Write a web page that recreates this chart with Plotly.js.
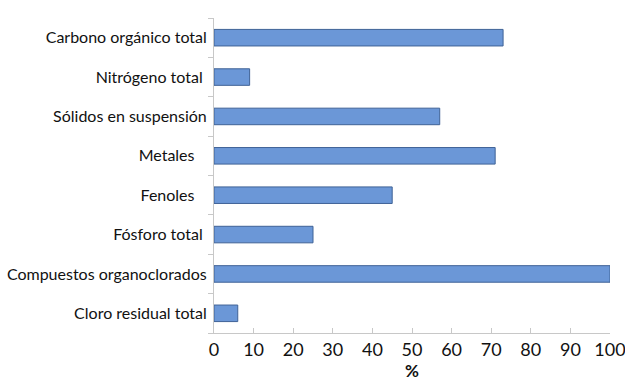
<!DOCTYPE html>
<html>
<head>
<meta charset="utf-8">
<script src="https://cdn.plot.ly/plotly-3.0.1.min.js"></script>
<style>html,body{margin:0;padding:0;background:#fff;}#chart{width:625px;height:381px;}</style>
</head>
<body>
<div id="chart"></div>
<script>
const categories = [
  "Carbono orgánico total",
  "Nitrógeno total",
  "Sólidos en suspensión",
  "Metales",
  "Fenoles",
  "Fósforo total",
  "Compuestos organoclorados",
  "Cloro residual total"
];
const values = [73, 9, 57, 71, 45, 25, 100, 6];
const tickVals = [0, 10, 20, 30, 40, 50, 60, 70, 80, 90, 100];

// trailing spacing as in the original labels
const labelPad = { "Nitrógeno total": 1, "Metales": 3, "Fenoles": 3, "Fósforo total": 1, "Cloro residual total": 0 };
const tickText = categories.map(c => c + '\u00a0'.repeat(labelPad[c] || 0));

const trace = {
  type: 'bar',
  orientation: 'h',
  y: categories,
  x: values,
  width: 0.42,
  marker: { color: '#6b97d7', line: { color: '#3f6296', width: 1 } },
  hoverinfo: 'x+y'
};

const layout = {
  width: 625, height: 381,
  margin: { l: 214, r: 15, t: 18, b: 48, pad: 0 },
  paper_bgcolor: '#ffffff',
  plot_bgcolor: '#ffffff',
  showlegend: false,
  font: { family: 'Lato, "Open Sans", sans-serif', color: '#1a1a1a' },
  xaxis: {
    range: [0, 100],
    tickvals: tickVals,
    ticktext: tickVals.map(String),
    showgrid: false,
    zeroline: false,
    showline: true,
    linecolor: '#c8c8c8',
    linewidth: 1,
    ticks: 'inside',
    ticklen: 5,
    tickcolor: '#c8c8c8',
    tickfont: { size: 18, color: '#111' },
    ticklabeloverflow: 'allow',
    title: { text: '<b>%</b>', font: { size: 17, color: '#111' }, standoff: 2 },
    fixedrange: true
  },
  yaxis: {
    type: 'category',
    categoryorder: 'array',
    categoryarray: categories,
    tickvals: categories,
    ticktext: tickText,
    autorange: 'reversed',
    showgrid: false,
    zeroline: false,
    showline: true,
    linecolor: '#c8c8c8',
    linewidth: 1,
    ticks: 'outside',
    tickson: 'boundaries',
    ticklen: 5,
    tickcolor: '#c8c8c8',
    tickfont: { size: 16, color: '#111' },
    ticklabelstandoff: 3,
    fixedrange: true
  },
  bargap: 0.58
};

Plotly.newPlot('chart', [trace], layout, { displayModeBar: false, staticPlot: true });
</script>
</body>
</html>
